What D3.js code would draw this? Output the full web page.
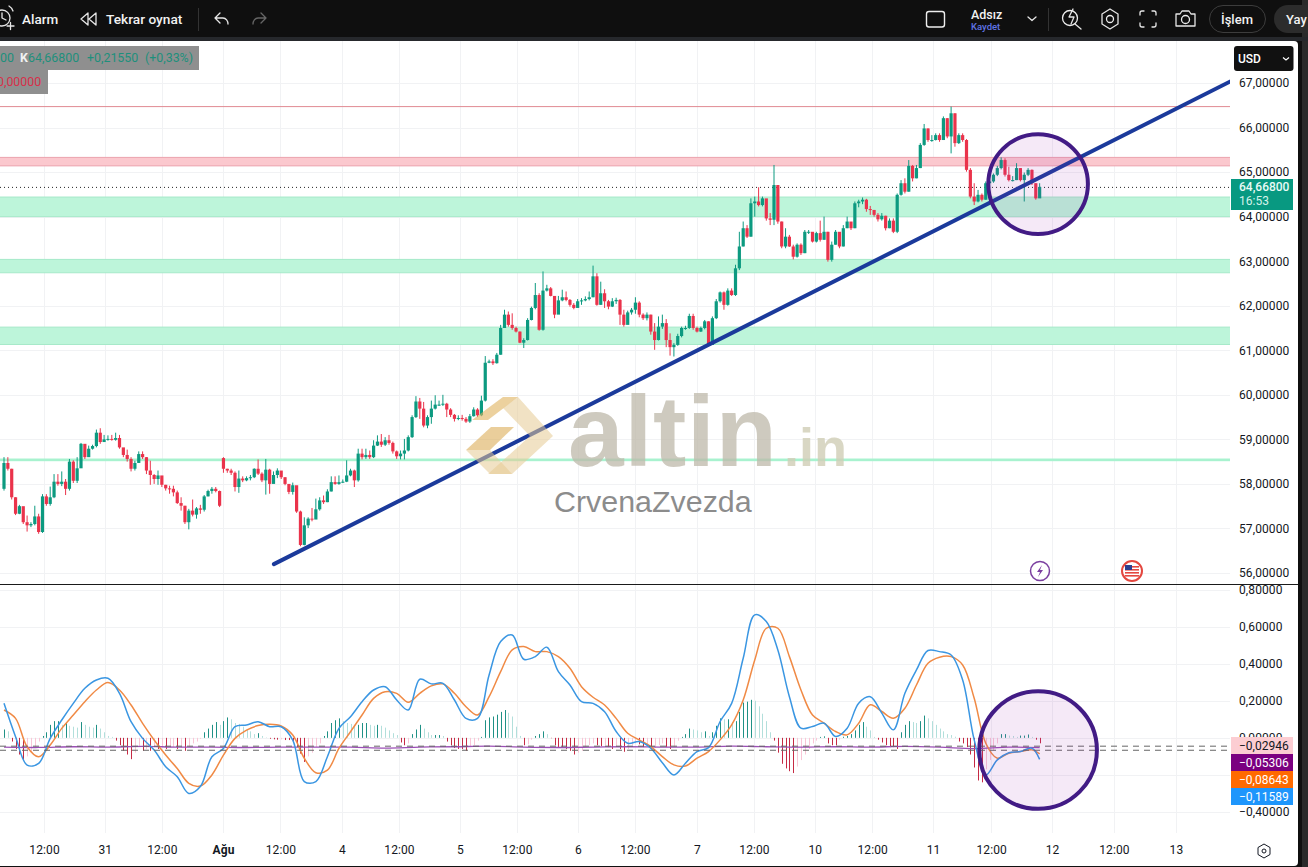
<!DOCTYPE html>
<html><head><meta charset="utf-8"><title>Gümüş grafik</title>
<script src="https://cdn.jsdelivr.net/npm/d3@7"></script>
<style>html,body{margin:0;padding:0;background:#131313;overflow:hidden}svg{display:block}text{font-family:Roboto,"Noto Sans",sans-serif}</style>
</head><body><svg id="c" width="1308" height="867"></svg>
<script>
const closes=[58.47,58.34,57.70,57.33,57.50,57.14,57.07,57.10,57.27,56.92,
57.72,57.55,57.70,58.05,58.00,58.05,57.89,58.50,58.07,58.35,
58.90,58.60,58.79,58.85,59.15,58.94,59.00,59.01,58.99,59.03,
58.82,58.65,58.56,58.34,58.47,58.67,58.60,58.30,58.20,58.11,
58.19,57.98,57.90,57.89,57.81,57.57,57.51,57.14,57.40,57.31,
57.45,57.42,57.72,57.84,57.89,57.84,57.51,
58.34,58.30,58.25,57.93,58.12,58.08,58.13,58.15,58.34,58.23,
58.08,58.32,58.00,58.20,58.30,58.15,58.00,57.82,57.97,57.38,
56.63,57.07,57.22,57.20,57.43,57.63,57.59,57.83,58.04,58.00,
58.04,58.05,58.19,58.30,58.08,58.68,58.60,58.65,58.60,58.86,
58.95,58.88,58.98,58.92,58.73,58.62,58.68,58.75,59.05,59.50,
59.85,59.69,59.31,59.50,59.69,59.78,59.78,59.80,59.67,59.55,
59.46,59.48,59.46,59.40,59.52,59.67,59.54,
59.87,60.72,60.75,60.71,60.90,61.50,61.80,61.57,61.50,61.42,
61.17,61.23,61.68,61.95,62.24,61.46,62.34,62.39,62.22,61.80,
62.12,62.19,62.13,62.02,61.95,62.10,62.12,62.15,62.19,62.66,
62.02,62.28,62.10,61.98,62.10,62.13,61.80,61.57,61.85,61.91,
62.07,61.80,61.72,61.80,61.42,61.23,61.53,61.61,61.23,61.07,
61.12,61.32,61.50,61.50,61.77,61.50,61.42,61.50,61.65,61.12,
61.72,62.10,62.30,62.02,62.34,62.24,62.84,
63.33,63.74,63.55,64.30,64.34,64.26,64.41,63.96,63.93,
64.71,63.89,63.33,63.55,63.33,63.10,63.37,63.18,63.66,63.66,
63.44,63.63,63.48,63.66,63.03,63.37,63.66,63.33,63.74,63.89,
63.74,64.30,64.34,64.38,64.17,64.15,64.04,63.94,64.02,63.74,
63.91,63.66,64.49,64.75,64.56,65.14,64.86,65.09,65.61,65.98,
65.72,65.72,65.83,65.72,66.21,65.80,66.32,65.65,65.83,65.72,
65.05,64.45,64.34,64.49,64.38,64.75,64.79,64.94,65.09,65.27,
64.94,64.82,64.82,65.09,64.82,64.94,65.05,64.75,64.41,64.668];
const highs=[58.60,58.60,58.34,57.70,57.53,57.44,57.29,57.14,57.51,57.33,
57.77,57.77,57.94,58.22,58.22,58.28,58.11,58.56,58.53,58.60,
58.92,58.86,58.86,58.88,59.22,59.25,59.10,59.09,59.10,59.15,
59.10,58.80,58.77,58.60,58.52,58.73,58.73,58.60,58.52,58.22,
58.30,58.15,57.98,57.96,57.96,57.85,57.70,57.51,57.44,57.65,
57.48,57.53,57.75,57.87,57.93,57.93,57.85,
58.60,58.34,58.34,58.28,58.30,58.17,58.17,58.20,58.35,58.55,
58.26,58.56,58.34,58.28,58.35,58.25,58.15,57.98,58.03,57.65,
57.40,57.25,57.25,57.46,57.67,57.70,57.74,57.88,58.17,58.17,
58.19,58.10,58.53,58.34,58.32,58.79,58.79,58.79,58.75,58.98,
59.09,59.12,59.05,59.10,58.95,58.75,58.75,59.01,59.09,59.54,
59.97,59.93,59.84,59.54,59.87,59.99,59.87,60.00,59.82,59.70,
59.57,59.54,59.55,59.50,59.57,59.72,59.70,
59.98,60.87,60.79,60.80,60.94,61.57,61.91,61.87,61.83,61.53,
61.42,61.27,61.72,61.98,62.51,62.28,62.77,62.47,62.42,62.13,
62.22,62.36,62.32,62.15,62.06,62.15,62.17,62.21,62.32,62.90,
62.73,62.54,62.37,62.13,62.17,62.18,62.15,61.91,61.89,61.95,
62.19,62.10,61.83,61.85,61.80,61.61,61.76,61.80,61.70,61.38,
61.16,61.37,61.53,61.55,61.82,61.82,61.53,61.53,61.68,61.65,
61.76,62.15,62.32,62.32,62.39,62.39,62.92,
63.66,63.89,63.81,64.41,64.45,64.66,64.45,64.30,64.08,
65.16,64.71,63.89,63.74,63.59,63.37,63.40,63.40,63.70,63.70,
63.64,63.66,63.91,64.00,63.66,63.44,63.70,63.59,63.81,64.00,
63.87,64.34,64.38,64.43,64.40,64.24,64.15,64.08,64.08,64.02,
63.96,63.96,64.52,64.82,64.86,65.27,65.16,65.16,65.65,66.08,
65.98,65.83,65.87,65.87,66.25,66.21,66.47,66.32,65.87,65.87,
65.74,65.09,64.75,64.60,64.52,64.79,64.82,64.97,65.14,65.33,
65.31,65.12,64.91,65.20,65.09,64.99,65.09,65.06,64.75,64.75];
const lows=[57.85,58.30,57.65,57.30,57.32,57.10,56.93,57.03,57.07,56.88,
56.90,57.51,57.51,57.68,57.96,57.95,57.75,57.85,58.02,58.02,
58.55,58.56,58.64,58.77,58.82,58.90,58.94,58.97,58.97,58.97,
58.79,58.60,58.50,58.28,58.30,58.47,58.56,58.22,57.98,58.00,
57.98,57.93,57.85,57.78,57.72,57.55,57.40,57.10,56.98,57.27,
57.22,57.33,57.38,57.72,57.78,57.81,57.48,
58.25,58.25,58.20,57.83,57.80,58.04,58.06,58.08,58.13,58.20,
58.04,57.76,57.78,58.08,58.13,58.11,57.97,57.77,57.76,57.35,
56.60,56.62,57.01,57.16,57.38,57.40,57.55,57.59,57.83,57.98,
57.98,58.02,58.04,58.17,57.93,58.05,58.55,58.56,58.56,58.58,
58.85,58.83,58.85,58.88,58.68,58.56,58.55,58.55,58.73,59.03,
59.48,59.46,59.27,59.25,59.35,59.67,59.75,59.75,59.50,59.50,
59.40,59.43,59.42,59.37,59.37,59.51,59.50,
59.52,59.85,60.71,60.67,60.70,60.90,61.50,61.53,61.46,61.40,
61.16,61.05,61.22,61.67,61.92,61.44,61.44,62.32,62.21,61.72,
61.91,62.10,62.10,61.98,61.92,62.02,62.02,62.10,62.12,62.19,
62.00,62.02,61.95,61.92,61.97,62.04,61.57,61.53,61.61,61.80,
61.82,61.74,61.68,61.67,61.35,61.01,61.22,61.48,61.07,60.88,
60.86,61.10,61.29,61.46,61.48,61.46,61.40,61.41,61.47,61.10,
61.14,61.70,62.07,61.91,62.00,62.22,62.22,
62.80,63.33,63.52,63.55,64.00,64.23,64.23,63.91,63.81,
63.81,63.84,63.29,63.29,63.32,63.04,63.08,63.14,63.18,63.61,
63.42,63.42,63.44,63.48,62.99,62.99,63.37,63.29,63.33,63.74,
63.70,63.74,64.21,64.28,64.11,64.04,64.00,63.89,63.91,63.69,
63.74,63.63,63.63,64.47,64.52,64.56,64.79,64.86,65.09,65.59,
65.68,65.68,65.71,65.68,65.72,65.76,65.42,65.57,65.63,65.68,
65.01,64.41,64.26,64.32,64.34,64.38,64.64,64.76,64.91,65.06,
64.90,64.79,64.79,64.82,64.79,64.34,64.91,64.71,64.38,64.43];
const firstOpen=57.89;
const sessionOpenBar=57, sessionOpen=58.58;

const macd=[.186,.006,-.147,-.138,-.003,.096,.186,.267,.312,.321,.24,.087,-.003,-.066,-.156,-.21,-.30,-.263,-.102,-.057,
.06,.069,.087,.06,.06,-.012,-.236,-.236,-.102,.051,.114,.195,.258,.276,.204,.15,.316,.291,.294,.204,
.105,.105,.339,.519,.555,.424,.438,.489,.357,.285,.195,.186,.141,.034,-.029,-.02,-.056,-.134,-.20,-.137,
-.074,-.053,.088,.186,.429,.663,.627,.474,.222,.052,.061,.079,.007,.052,.187,.222,.133,.043,.24,.366,
.471,.465,.447,.312,-.011,-.20,-.119,-.08,-.074,-.056,-.116];
const signal=[.15,.105,-.048,-.102,-.039,.051,.123,.195,.258,.298,.258,.177,.078,-.012,-.093,-.165,-.245,-.26,-.20,-.093,
-.003,.042,.066,.073,.064,.015,-.11,-.188,-.174,-.057,.033,.123,.213,.249,.24,.192,.24,.28,.291,.24,
.168,.123,.222,.357,.474,.492,.465,.465,.438,.375,.276,.219,.177,.105,.025,-.011,-.047,-.101,-.146,-.152,
-.11,-.074,-.011,.07,.204,.42,.591,.591,.438,.258,.123,.079,.034,.016,.079,.178,.142,.106,.16,.285,
.402,.435,.438,.393,.213,-.029,-.11,-.083,-.074,-.065,-.0864];
const hist=[.045,.035,-.02,-.06,-.09,-.12,-.10,-.08,-.05,-.02,
.01,.03,.07,.09,.09,.07,.08,.065,.06,.055,
.085,.07,.06,.055,.07,.05,.03,.01,.005,-.015,
-.04,-.07,-.09,-.115,-.08,-.05,-.07,-.06,-.07,-.05,
-.06,-.05,-.06,-.055,-.05,-.06,-.055,-.07,-.05,-.03,
-.02,-.005,.03,.05,.07,.085,.07,.09,.11,.10,
.08,.075,.06,.045,.035,.02,.025,.01,.002,-.005,
-.008,-.01,-.008,-.012,-.012,-.02,-.05,-.085,-.13,-.10,
-.08,-.05,-.03,.01,.035,.08,.095,.105,.09,.08,
.075,.07,.07,.08,.08,.07,.065,.07,.065,.055,
.04,.025,.015,-.025,-.04,-.03,.02,.045,.07,.05,
.03,.015,.015,.015,.01,-.02,-.04,-.055,-.06,-.06,
-.07,-.05,-.04,-.015,.005,.095,.11,.115,.125,.14,
.15,.135,.115,.06,.01,-.04,-.035,-.01,.01,.02,
.035,.02,-.002,-.04,-.05,-.05,-.06,-.07,-.09,-.08,
-.07,-.05,-.04,-.03,-.04,-.045,-.04,-.05,-.06,-.05,
-.06,-.075,-.06,-.04,-.03,-.035,-.05,-.04,-.06,-.055,
-.04,-.03,-.05,-.06,-.05,-.015,.005,.02,.05,.045,
.04,.03,.035,.01,.03,.065,.105,.10,.10,.085,
.09,.14,.19,.195,.205,.20,.17,.13,.09,.03,
-.015,-.08,-.14,-.165,-.18,-.19,-.155,-.12,-.09,-.06,
-.03,-.015,.005,.008,-.03,-.04,-.04,-.01,.006,.01,
.02,.04,.07,.085,.06,.04,.005,-.01,-.025,-.04,
-.05,-.05,-.06,.03,.07,.09,.085,.08,.09,.12,
.105,.09,.07,.05,.035,.02,.015,.006,-.02,-.03,
-.05,-.09,-.16,-.23,-.24,-.17,-.12,-.07,-.03,.02,
.02,.012,.01,.005,.012,.012,.018,.005,-.01,-.0295];
const slowLine=[-.05,-.052,-.048,-.05,-.046,-.05,-.05,-.052,-.05,-.05,-.05,-.055,-.05,-.048,-.045,-.05,-.052,-.05,-.048,-.05,-.05,-.045,-.048,-.05,-.048,-.05,-.046,-.05,-.058,-.05,-.053];
const dashedLevels=[-.045,-.067];

const priceTicks=[56,57,58,59,60,61,62,63,64,65,66,67];
const macdTicks=[-.4,0,.2,.4,.6,.8];
const gridMacd=[-.4,-.2,0,.2,.4,.6,.8];
const timeBars=[10.4,26.2,41,56.9,71.8,87.8,102.6,118.4,133.2,149.1,163.9,180,194.8,210.6,225.5,241.3,256.4,272.2,288.3,304.4];
const timeLabels=["12:00","31","12:00","Ağu","12:00","4","12:00","5","12:00","6","12:00","7","12:00","10","12:00","11","12:00","12","12:00","13"];

const greenZones=[[64.0,64.44],[62.74,63.04],[61.13,61.52]];
const thinZone=[58.51,58.57];
const redZone=[65.14,65.33];
const resistance=66.47;
const lastPrice=64.668;
const trendBars=[70.1,318.4], trendPrices=[56.2,67.03];
const priceCircle=[268.6,64.73], macdCircle=[268.6,-.066];
const macdTags=[["−0,02946","#fccdd2","#131722"],["−0,05306","#7b0080","#fff"],["−0,08643","#ff6a00","#fff"],["−0,11589","#1e96fc","#fff"]];

const svg=d3.select("#c");
const W=1230,PR=1298;
const x=d3.scaleLinear().domain([0,269]).range([4,1039.65]);
const yP=d3.scaleLinear().domain([56,67]).range([573,83]);
const yM=d3.scaleLinear().domain([-.4,.8]).range([812,589.5]);
const comma=(d,n=5)=>d3.format(`.${n}f`)(Math.abs(d)).replace(".",",");
const fmt=d=>(d<0?"−":"")+comma(d);

const defs=svg.append("defs");
defs.append("clipPath").attr("id","cp").append("rect").attr("x",0).attr("y",41).attr("width",W).attr("height",543);
defs.append("clipPath").attr("id","cm").append("rect").attr("x",0).attr("y",585).attr("width",W).attr("height",250);

// panel
svg.append("rect").attr("width",1308).attr("height",867).attr("fill","#2a2a2a");
svg.append("rect").attr("x",0).attr("y",0).attr("width",1302).attr("height",867).attr("fill","#0f0f0f");
svg.append("rect").attr("x",-8).attr("y",41).attr("width",PR+8).attr("height",825).attr("rx",4).attr("fill","#fff");
svg.append("rect").attr("x",0).attr("y",37).attr("width",1308).attr("height",4).attr("fill","#26282c");

// grid
const grid=svg.append("g").attr("stroke","#f1f2f4").attr("stroke-width",1);
timeBars.forEach(b=>{const X=Math.round(x(b))+.5;grid.append("line").attr("x1",X).attr("x2",X).attr("y1",41).attr("y2",833);});
priceTicks.forEach(p=>{const Y=Math.round(yP(p))+.5;grid.append("line").attr("x1",0).attr("x2",W).attr("y1",Y).attr("y2",Y);});
gridMacd.forEach(p=>{const Y=Math.round(yM(p))+.5;grid.append("line").attr("x1",0).attr("x2",W).attr("y1",Y).attr("y2",Y);});

// zones
const pane=svg.append("g").attr("clip-path","url(#cp)");
const zone=(lo,hi,fill,stroke)=>pane.append("rect").attr("x",-3).attr("width",W+6).attr("y",yP(hi)).attr("height",yP(lo)-yP(hi)).attr("fill",fill).attr("stroke",stroke).attr("stroke-width",1);
greenZones.forEach(z=>zone(z[0],z[1],"#bdf5da","#a6e9c9"));
zone(thinZone[0],thinZone[1],"#a8f2cf","none");
zone(redZone[0],redZone[1],"#fbc8ce","#eba3ae");
pane.append("line").attr("x1",0).attr("x2",W).attr("y1",yP(resistance)).attr("y2",yP(resistance)).attr("stroke","#e08b92").attr("stroke-width",1);
pane.append("line").attr("x1",0).attr("x2",W).attr("y1",yP(lastPrice)+.5).attr("y2",yP(lastPrice)+.5).attr("stroke","#222").attr("stroke-width",1).attr("stroke-dasharray","1 3");

// candles
const UP="#0c9a80",DN="#ea334b";
const opens=closes.map((c,i)=>i===0?firstOpen:i===sessionOpenBar?sessionOpen:closes[i-1]);
const bars=pane.append("g").selectAll("g").data(closes).join("g");
bars.append("line").attr("x1",(d,i)=>x(i)).attr("x2",(d,i)=>x(i)).attr("y1",(d,i)=>yP(highs[i])).attr("y2",(d,i)=>yP(lows[i])).attr("stroke",(d,i)=>d>=opens[i]?UP:DN).attr("stroke-width",1);
bars.append("rect").attr("x",(d,i)=>x(i)-1.6).attr("width",3.2).attr("y",(d,i)=>yP(Math.max(d,opens[i]))).attr("height",(d,i)=>Math.max(1,Math.abs(yP(d)-yP(opens[i])))).attr("fill",(d,i)=>d>=opens[i]?UP:DN);

// trend line
pane.append("line").attr("x1",x(trendBars[0])).attr("y1",yP(trendPrices[0])).attr("x2",x(trendBars[1])).attr("y2",yP(trendPrices[1])).attr("stroke","#1b3a9b").attr("stroke-width",4).attr("stroke-linecap","round");

// watermark
const wm=svg.append("g");
const poly=(pts,fill,op)=>wm.append("polygon").attr("points",pts).attr("fill",fill).attr("fill-opacity",op);
poly("472,420 503,397 518,397 488,420","#dfb25e",.6);
poly("518,397 553,436 512,474 488,474 530,436 503,408","#e6cb93",.55);
poly("466,450 491,427 514,427 490,450","#dcae58",.6);
poly("466,450 490,450 512,474 490,474","#e6cb93",.55);
wm.append("text").attr("x",568).attr("y",466).attr("font-size",100).attr("font-weight",700).style("font-family","'Liberation Sans',Arial").style("letter-spacing","0.8px").attr("fill","#bdb8aa").attr("fill-opacity",.75).text("altin");
wm.append("text").attr("x",784).attr("y",466).attr("font-size",54).attr("font-weight",700).style("font-family","'Liberation Sans',Arial").attr("fill","#cfcdb5").attr("fill-opacity",.8).text(".in");
wm.append("text").attr("x",554).attr("y",512).attr("font-size",30.4).style("font-family","'Liberation Sans',Arial").attr("fill","#8c8c8c").text("CrvenaZvezda");

// circles
const circle=(cx,cy,r)=>svg.append("circle").attr("cx",cx).attr("cy",cy).attr("r",r).attr("fill","#9c27b0").attr("fill-opacity",.1).attr("stroke","#421b85").attr("stroke-width",4);
circle(x(priceCircle[0]),yP(priceCircle[1]),49.8);

// event badges
svg.append("circle").attr("cx",1040).attr("cy",571).attr("r",9.5).attr("fill","#fff").attr("stroke","#7b3fa0").attr("stroke-width",1.5);
svg.append("path").attr("d","M1042 565 L1037 572 H1040 L1038 577 L1043 570 H1040 Z").attr("fill","#7b3fa0");
svg.append("circle").attr("cx",1132).attr("cy",571).attr("r",10).attr("fill","#fff").attr("stroke","#e4473f").attr("stroke-width",2);
[566,569,572,575].forEach(Y=>svg.append("rect").attr("x",1125).attr("y",Y).attr("width",14).attr("height",1.6).attr("fill","#e4473f"));
svg.append("rect").attr("x",1125).attr("y",565).attr("width",7).attr("height",5).attr("fill","#2c3e8f");

// MACD pane
svg.append("line").attr("x1",0).attr("x2",PR).attr("y1",584.5).attr("y2",584.5).attr("stroke","#1a1a1a");
const mp=svg.append("g").attr("clip-path","url(#cm)");
mp.append("g").selectAll("line").data(hist).join("line")
 .attr("x1",(d,i)=>Math.round(x(i))+.5).attr("x2",(d,i)=>Math.round(x(i))+.5)
 .attr("y1",yM(0)).attr("y2",d=>yM(d)).attr("stroke-width",1)
 .attr("stroke",(d,i)=>{const p=i?hist[i-1]:0;return d>=0?(d>=p?"#1f9186":"#b2dfdb"):(d<=p?"#c62a44":"#f9c6d6");});
dashedLevels.forEach(v=>svg.append("line").attr("x1",0).attr("x2",W).attr("y1",yM(v)).attr("y2",yM(v)).attr("stroke","#666").attr("stroke-dasharray","6 5"));
const lineBars=d3.range(0,270,3).concat(269);
const slowBars=d3.range(0,270,9).concat(269);
const ln=d3.line().curve(d3.curveCatmullRom.alpha(.5));
mp.append("path").attr("fill","none").attr("stroke","#9b4fb5").attr("stroke-width",1.3).attr("d",ln(slowLine.map((v,i)=>[x(slowBars[i]),yM(v)])));
mp.append("path").attr("fill","none").attr("stroke","#f08a45").attr("stroke-width",1.5).attr("d",ln(signal.map((v,i)=>[x(lineBars[i]),yM(v)])));
mp.append("path").attr("fill","none").attr("stroke","#3a96e2").attr("stroke-width",1.5).attr("d",ln(macd.map((v,i)=>[x(lineBars[i]),yM(v)])));
circle(x(macdCircle[0]),yM(macdCircle[1]),58.8);

// axes
const axStyle=g=>{g.select(".domain").remove();g.selectAll("text").attr("fill","#131722").attr("font-size",12).style("letter-spacing","0.1px");};
svg.append("g").attr("transform",`translate(${W},0)`).call(d3.axisRight(yP).tickValues(priceTicks).tickSize(0).tickPadding(9).tickFormat(d=>comma(d))).call(axStyle);
svg.append("g").attr("transform",`translate(${W},0)`).call(d3.axisRight(yM).tickValues(macdTicks).tickSize(0).tickPadding(9).tickFormat(fmt)).call(axStyle);
const xa=svg.append("g").attr("transform","translate(0,841)").call(d3.axisBottom(x).tickValues(timeBars).tickSize(0).tickPadding(4).tickFormat((d,i)=>timeLabels[i])).call(axStyle);
xa.selectAll("text").attr("font-weight",(d,i)=>timeLabels[i]==="Ağu"?700:400);

// price tag
svg.append("rect").attr("x",1231).attr("y",179).attr("width",62).attr("height",31).attr("fill","#089981");
svg.append("text").attr("x",1239).attr("y",187).attr("dy",".35em").attr("font-size",12).attr("font-weight",500).attr("fill","#e9fbf6").text(comma(lastPrice));
svg.append("text").attr("x",1239).attr("y",201).attr("dy",".35em").attr("font-size",12).attr("fill","#d5f3ea").text("16:53");
// USD
svg.append("rect").attr("x",1234).attr("y",46).attr("width",59.5).attr("height",25).attr("rx",3).attr("fill","#111");
svg.append("text").attr("x",1238).attr("y",58.5).attr("dy",".35em").attr("font-size",12).attr("font-weight",500).attr("fill","#fff").text("USD");
svg.append("path").attr("d","M1283 57.5 L1286 60 L1289 57.5").attr("fill","none").attr("stroke","#fff").attr("stroke-width",1.2);
// MACD tags
macdTags.forEach((t,i)=>{const Y=737+i*17;
 svg.append("rect").attr("x",1231).attr("y",Y).attr("width",62).attr("height",17).attr("fill",t[1]);
 svg.append("text").attr("x",1239).attr("y",Y+8.5).attr("dy",".35em").attr("font-size",12).attr("fill",t[2]).text(t[0]);});

// legend
svg.append("rect").attr("x",0).attr("y",46).attr("width",199).attr("height",24).attr("fill","#8f8f8f");
svg.append("rect").attr("x",0).attr("y",70).attr("width",48).attr("height",24).attr("fill","#8f8f8f");
const lg=(t,X,Y,c,w)=>svg.append("text").attr("x",X).attr("y",Y).attr("dy",".35em").attr("font-size",12.4).attr("font-weight",w||400).attr("fill",c).text(t);
lg("00",0,58,"#1e8f7c");lg("K",20,58,"#f2f2f2",700);lg("64,66800",28,58,"#1e8f7c");lg("+0,21550",87,58,"#1e8f7c");lg("(+0,33%)",145,58,"#1e8f7c");
lg("0,00000",-3,82,"#d8304a");

// toolbar
const tb=svg.append("g");
const T=(t,X,Y,s,c,w)=>tb.append("text").attr("x",X).attr("y",Y).attr("dy",".35em").attr("font-size",s).attr("fill",c||"#f2f2f2").attr("font-weight",w||500).text(t);
const I=(d,c,w)=>tb.append("path").attr("d",d).attr("fill","none").attr("stroke",c||"#e6e6e6").attr("stroke-width",w||1.3).attr("stroke-linecap","round").attr("stroke-linejoin","round");
T("Alarm",22,19,13.5);T("Tekrar oynat",106,19,13.7);
tb.append("circle").attr("cx",2).attr("cy",18).attr("r",8).attr("fill","none").attr("stroke","#e6e6e6").attr("stroke-width",1.3);
I("M2 13V18L6 20M7 26H14M10.5 22.5V29.5M9 6A9 9 0 0 1 13 11");
I("M88 13L81 19L88 25ZM96 13L89 19L96 25Z");
tb.append("line").attr("x1",198.5).attr("x2",198.5).attr("y1",8).attr("y2",31).attr("stroke","#333");
I("M215 18L220 13M215 18L220 23M215 18H223C226 18 228 21 228 24");
I("M266 18L261 13M266 18L261 23M266 18H258C255 18 253 21 253 24","#666");
tb.append("rect").attr("x",926.5).attr("y",11.5).attr("width",18).attr("height",15.5).attr("rx",2.5).attr("fill","none").attr("stroke","#eee").attr("stroke-width",1.4);
T("Adsız",971,15,12.5,"#f2f2f2",500);T("Kaydet",971,27,9.5,"#5f73e6",500);
I("M1028 17L1032 20.5L1036 17");
tb.append("line").attr("x1",1048.5).attr("x2",1048.5).attr("y1",8).attr("y2",31).attr("stroke","#333");
tb.append("circle").attr("cx",1070).attr("cy",18).attr("r",7.5).attr("fill","none").attr("stroke","#eee").attr("stroke-width",1.3);
I("M1075 24L1081 29M1073 9L1069 17H1074L1071 24");
I("M1110 9L1118 14V24L1110 29L1102 24V14Z");tb.append("circle").attr("cx",1110).attr("cy",19).attr("r",3.5).attr("fill","none").attr("stroke","#eee").attr("stroke-width",1.3);
I("M1140 15V13Q1140 11 1142 11H1144M1152 11H1154Q1156 11 1156 13V15M1156 23V25Q1156 27 1154 27H1152M1144 27H1142Q1140 27 1140 25V23");
I("M1176 14H1180L1182 11H1189L1191 14H1195V26H1176Z");tb.append("circle").attr("cx",1185.5).attr("cy",19.5).attr("r",4).attr("fill","none").attr("stroke","#eee").attr("stroke-width",1.3);
tb.append("rect").attr("x",1209.5).attr("y",5.5).attr("width",56).attr("height",27).attr("rx",13.5).attr("fill","none").attr("stroke","#3d3d3d");
T("İşlem",1221,19,13);
tb.append("rect").attr("x",1274).attr("y",5).attr("width",50).attr("height",28).attr("rx",14).attr("fill","#2c2c2c");
T("Yay",1286,19,13);

// settings
svg.append("path").attr("d","M1264 844L1270 847.5V854.5L1264 858L1258 854.5V847.5Z").attr("fill","none").attr("stroke","#131722");
svg.append("circle").attr("cx",1264).attr("cy",851).attr("r",2).attr("fill","none").attr("stroke","#131722");
svg.append("rect").attr("x",0).attr("y",866).attr("width",1302).attr("height",1).attr("fill","#111");
</script></body></html>
